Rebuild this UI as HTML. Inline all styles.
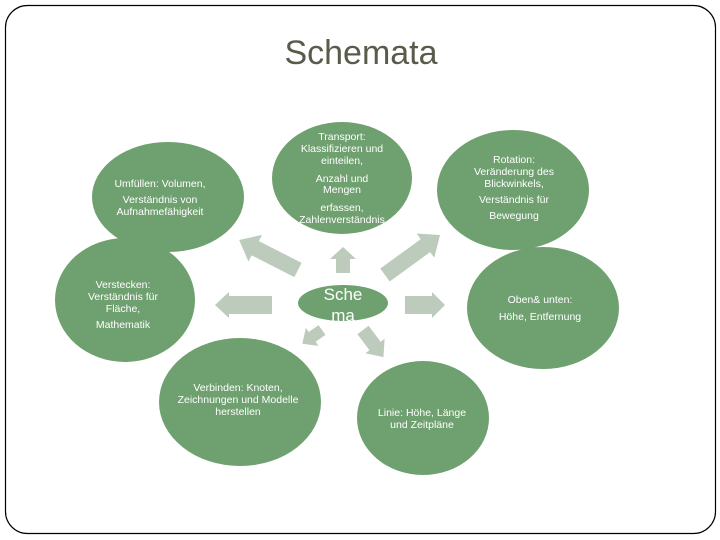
<!DOCTYPE html>
<html><head><meta charset="utf-8"><style>
html,body{margin:0;padding:0;background:#fff;}
svg{display:block;}
text{font-family:"Liberation Sans",sans-serif;fill:#fff;}
</style></head><body>
<svg width="720" height="540" viewBox="0 0 720 540" xmlns="http://www.w3.org/2000/svg">
<rect x="5.5" y="5.5" width="710" height="528" rx="22" fill="#fff" stroke="#000" stroke-width="1.2"/>
<text x="361" y="64" text-anchor="middle" font-size="34" style="fill:#5b5b4c">Schemata</text>
<g fill="#6fa06f">
<ellipse cx="342" cy="178" rx="70" ry="56"/>
<ellipse cx="168" cy="197" rx="76" ry="55"/>
<ellipse cx="513" cy="190" rx="76" ry="60"/>
<ellipse cx="125" cy="300" rx="70" ry="62"/>
<ellipse cx="543" cy="308" rx="76" ry="61"/>
<ellipse cx="240" cy="402" rx="81" ry="64"/>
<ellipse cx="423" cy="418" rx="66" ry="57"/>
<ellipse cx="343" cy="303" rx="45" ry="18"/>
</g>
<g fill="#bccbbc">
<g transform="translate(298,270) rotate(207)"><polygon points="0,-8 48,-8 48,-15 66,0 48,15 48,8 0,8"/></g>
<g transform="translate(385,275) rotate(-36)"><polygon points="0,-8 50,-8 50,-15 68,0 50,15 50,8 0,8"/></g>
<g transform="translate(343,273) rotate(-90)"><polygon points="0,-7 14,-7 14,-13 26,0 14,13 14,7 0,7"/></g>
<g transform="translate(272,305) rotate(180)"><polygon points="0,-9 43,-9 43,-13 57,0 43,13 43,9 0,9"/></g>
<g transform="translate(405,305)"><polygon points="0,-9 27,-9 27,-13 40,0 27,13 27,9 0,9"/></g>
<g transform="translate(322,330) rotate(145)"><polygon points="0,-6 12,-6 12,-11 24,0 12,11 12,6 0,6"/></g>
<g transform="translate(363,330) rotate(53)"><polygon points="0,-7 20,-7 20,-12 34,0 20,12 20,7 0,7"/></g>
</g>
<text x="343" y="300" text-anchor="middle" font-size="17">Sche</text>
<text x="343" y="321" text-anchor="middle" font-size="17">ma</text>
<g font-size="10.5" text-anchor="middle">
<text x="342" y="140">Transport:</text>
<text x="342" y="152">Klassifizieren und</text>
<text x="342" y="164">einteilen,</text>
<text x="342" y="182">Anzahl und</text>
<text x="342" y="193">Mengen</text>
<text x="342" y="211">erfassen,</text>
<text x="342" y="223">Zahlenverständnis</text>
<text x="160" y="187">Umfüllen: Volumen,</text>
<text x="160" y="203">Verständnis von</text>
<text x="160" y="215">Aufnahmefähigkeit</text>
<text x="514" y="163">Rotation:</text>
<text x="514" y="175">Veränderung des</text>
<text x="514" y="187">Blickwinkels,</text>
<text x="514" y="203">Verständnis für</text>
<text x="514" y="219">Bewegung</text>
<text x="123" y="288">Verstecken:</text>
<text x="123" y="300">Verständnis für</text>
<text x="123" y="312">Fläche,</text>
<text x="123" y="328">Mathematik</text>
<text x="540" y="303">Oben&amp; unten:</text>
<text x="540" y="320">Höhe, Entfernung</text>
<text x="238" y="391">Verbinden: Knoten,</text>
<text x="238" y="403">Zeichnungen und Modelle</text>
<text x="238" y="415">herstellen</text>
<text x="422" y="416">Linie: Höhe, Länge</text>
<text x="422" y="428">und Zeitpläne</text>
</g>
</svg>
</body></html>
